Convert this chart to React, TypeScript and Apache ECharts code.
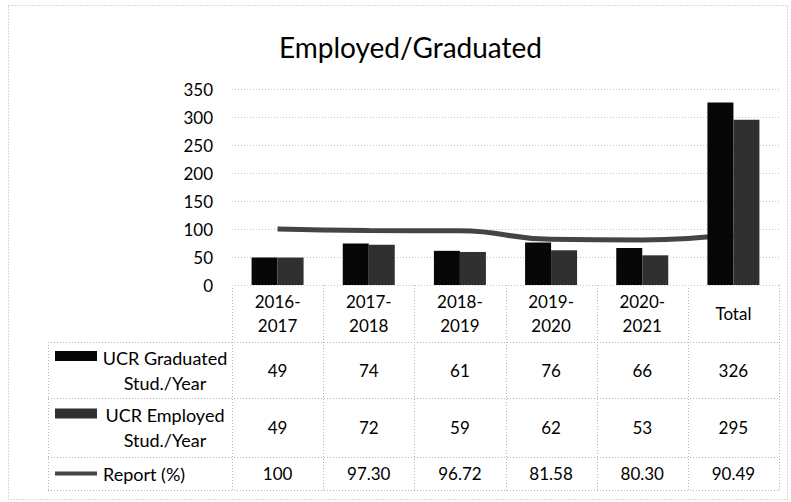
import React, { useEffect, useRef } from "react";
import * as echarts from "echarts";

const categories = ["2016-2017", "2017-2018", "2018-2019", "2019-2020", "2020-2021", "Total"];
const graduated = [49, 74, 61, 76, 66, 326];
const employed = [49, 72, 59, 62, 53, 295];
const report = [100, 97.3, 96.72, 81.58, 80.3, 90.49];
const seriesNames = ["UCR Graduated Stud./Year", "UCR Employed Stud./Year", "Report (%)"];
const rowLabels = ["UCR Graduated\nStud./Year", "UCR Employed\nStud./Year", "Report (%)"];

const FONT = "Lato";
const W = 791;
const H = 502;
const GRID_LEFT = 232;
const GRID_RIGHT_X = 779;
const AXIS_Y = 285;
const GRID_TOP = 89;
const ROW_LINES = [285, 342, 398, 457, 490];
const TABLE_LEFT = 48;

const fmtReport = (v: number) => (v === 100 ? "100" : v.toFixed(2));

export default function App() {
  const ref = useRef<HTMLDivElement>(null);
  useEffect(() => {
    if (!ref.current) return;
    const chart = echarts.init(ref.current, null, { renderer: "svg" });
    const colW = (GRID_RIGHT_X - GRID_LEFT) / categories.length;
    const dotted = { stroke: "#b5b5b5", lineWidth: 1, lineDash: [1, 2] };
    const graphics: any[] = [];
    graphics.push({
      type: "rect",
      shape: { x: 8.5, y: 5.5, width: 779, height: 494 },
      style: { fill: "none", ...dotted },
      silent: true,
    });
    ROW_LINES.forEach((y, i) => {
      graphics.push({
        type: "line",
        shape: { x1: i === 0 ? GRID_LEFT : TABLE_LEFT, y1: y + 0.5, x2: GRID_RIGHT_X, y2: y + 0.5 },
        style: dotted,
        silent: true,
      });
    });
    for (let i = 0; i <= categories.length; i++) {
      const x = Math.round(GRID_LEFT + i * colW) + 0.5;
      graphics.push({
        type: "line",
        shape: { x1: x, y1: AXIS_Y, x2: x, y2: ROW_LINES[4] },
        style: dotted,
        silent: true,
      });
    }
    graphics.push({
      type: "line",
      shape: { x1: TABLE_LEFT + 0.5, y1: ROW_LINES[1], x2: TABLE_LEFT + 0.5, y2: ROW_LINES[4] },
      style: dotted,
      silent: true,
    });
    const barColors = ["#070707", "#303030"];
    [0, 1].forEach((r) => {
      const cy = (ROW_LINES[r + 1] + ROW_LINES[r + 2]) / 2;
      graphics.push({
        type: "rect",
        shape: { x: 55, y: cy - 19, width: 42, height: 10 },
        style: { fill: barColors[r] },
        silent: true,
      });
      graphics.push({
        type: "text",
        x: 165,
        y: cy,
        style: {
          text: rowLabels[r],
          fontFamily: FONT,
          fontSize: 18,
          lineHeight: 25,
          fill: "#000",
          align: "center",
          verticalAlign: "middle",
        },
        silent: true,
      });
    });
    {
      const cy = (ROW_LINES[3] + ROW_LINES[4]) / 2;
      graphics.push({
        type: "line",
        shape: { x1: 55, y1: cy, x2: 97, y2: cy },
        style: { stroke: "#444", lineWidth: 4 },
        silent: true,
      });
      graphics.push({
        type: "text",
        x: 103,
        y: cy,
        style: {
          text: rowLabels[2],
          fontFamily: FONT,
          fontSize: 18,
          fill: "#000",
          align: "left",
          verticalAlign: "middle",
        },
        silent: true,
      });
    }

    const rowAxis = (margin: number, fmt: (v: string, i: number) => string) => ({
      type: "category",
      data: categories,
      position: "bottom",
      gridIndex: 0,
      axisLine: { show: false },
      axisTick: { show: false },
      splitLine: { show: false },
      axisLabel: {
        interval: 0,
        margin,
        verticalAlign: "middle",
        color: "#000",
        fontFamily: FONT,
        fontSize: 17,
        lineHeight: 24,
        formatter: fmt,
      },
    });

    const rowCenter = (r: number) => (ROW_LINES[r] + ROW_LINES[r + 1]) / 2 - AXIS_Y;

    chart.setOption({
      animation: false,
      backgroundColor: "#fff",
      title: {
        text: "Employed/Graduated",
        left: 274,
        top: 28,
        textStyle: { fontFamily: FONT, fontSize: 28, fontWeight: "normal", color: "#000" },
      },
      grid: {
        left: GRID_LEFT,
        right: W - GRID_RIGHT_X,
        top: GRID_TOP,
        bottom: H - AXIS_Y,
        containLabel: false,
      },
      xAxis: [
        rowAxis(rowCenter(0), (v: string) => v.replace("-", "-\n")),
        rowAxis(rowCenter(1), (_v: string, i: number) => String(graduated[i])),
        rowAxis(rowCenter(2), (_v: string, i: number) => String(employed[i])),
        rowAxis(rowCenter(3), (_v: string, i: number) => fmtReport(report[i])),
      ],
      yAxis: {
        type: "value",
        min: 0,
        max: 350,
        interval: 50,
        axisLine: { show: false },
        axisTick: { show: false },
        axisLabel: { color: "#000", fontFamily: FONT, fontSize: 17, margin: 19 },
        splitLine: { lineStyle: { color: "#c4c4c4", type: [1, 2] } },
      },
      series: [
        {
          name: seriesNames[0],
          type: "bar",
          data: graduated,
          barWidth: 26,
          barGap: "0%",
          itemStyle: { color: barColors[0] },
          z: 3,
        },
        {
          name: seriesNames[1],
          type: "bar",
          data: employed,
          barWidth: 26,
          barGap: "0%",
          itemStyle: { color: barColors[1] },
          z: 3,
        },
        {
          name: seriesNames[2],
          type: "line",
          data: report,
          smooth: true,
          showSymbol: false,
          lineStyle: { color: "#444", width: 5 },
          z: 1,
        },
      ],
      graphic: graphics,
    });
    return () => chart.dispose();
  }, []);
  return (
    <div
      ref={ref}
      style={{ position: "absolute", left: 0, top: 0, width: W, height: H }}
    />
  );
}
